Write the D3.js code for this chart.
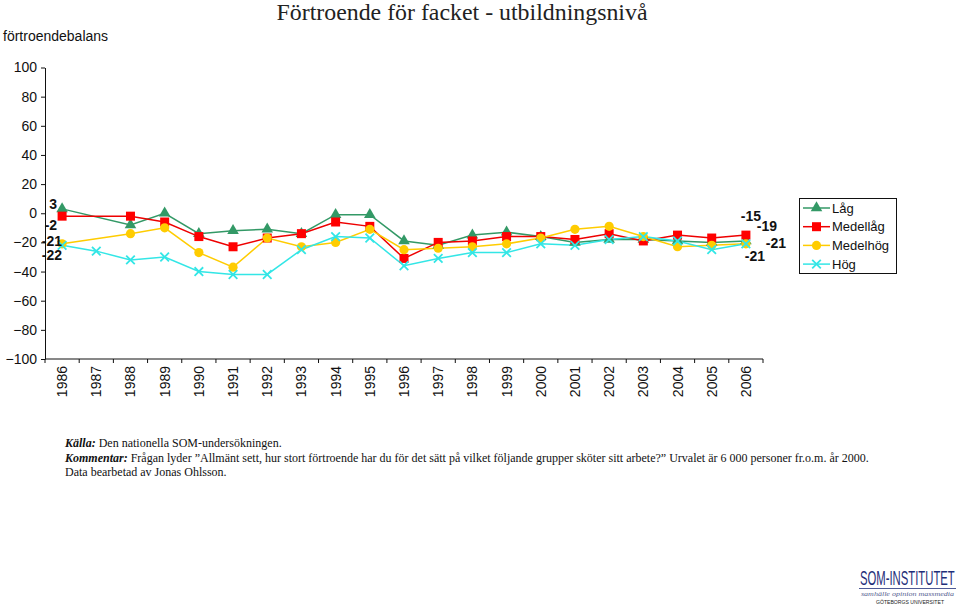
<!DOCTYPE html>
<html>
<head>
<meta charset="utf-8">
<script src="https://cdn.jsdelivr.net/npm/d3@7"></script>
<style>
  html, body { margin: 0; padding: 0; background: #fff; }
  svg { display: block; }
  text { font-family: "Liberation Sans", Arial, sans-serif; }
</style>
</head>
<body>
<svg id="chart" width="959" height="608"></svg>
<script>
// ---- data ----
const years = ["1986","1987","1988","1989","1990","1991","1992","1993","1994","1995","1996",
               "1997","1998","1999","2000","2001","2002","2003","2004","2005","2006"];
const seriesNames = ["Låg", "Medellåg", "Medelhög", "Hög"];
const lag      = [3, null, -8, 0, -14, -12, -11, -14, -1, -1, -19, -22, -15, -13, -16, -20, -18, -18, -19, -20, -19];
const medellag = [-2, null, -2, -6, -16, -23, -17, -14, -6, -9, -31, -20, -19, -16, -16, -18, -14, -19, -15, -17, -15];
const medelhog = [-21, null, -14, -10, -27, -37, -17, -23, -20, -11, -25, -24, -23, -21, -17, -11, -9, -16, -23, -22, -21];
const hog      = [-22, -26, -32, -30, -40, -42, -42, -25, -16, -17, -36, -31, -27, -27, -21, -22, -18, -16, -19, -25, -21];
const yTicks = [-100, -80, -60, -40, -20, 0, 20, 40, 60, 80, 100];

const titleText = "Förtroende för facket - utbildningsnivå";
const yAxisTitle = "förtroendebalans";

// ---- setup ----
const svg = d3.select("#chart");
const x = d3.scaleBand().domain(years).range([45, 763]);
const y = d3.scaleLinear().domain([-100, 100]).range([359, 67.5]);
const cx = d => x(d) + x.bandwidth() / 2;

const styles = {
  "Låg":      { color: "#339966", marker: "triangle" },
  "Medellåg": { color: "#ee0000", marker: "square" },
  "Medelhög": { color: "#ffcc00", marker: "circle" },
  "Hög":      { color: "#33e6e6", marker: "x" }
};
const allValues = [lag, medellag, medelhog, hog];
const series = seriesNames.map((name, i) => ({
  name,
  points: years.map((yr, j) => ({ yr, v: allValues[i][j] })).filter(p => p.v !== null)
}));

// title
svg.append("text").attr("x", 462).attr("y", 20).attr("text-anchor", "middle")
  .style("font-family", "'Liberation Serif', 'DejaVu Serif', serif")
  .style("font-size", "23px").attr("fill", "#222")
  .attr("textLength", 371).attr("lengthAdjust", "spacingAndGlyphs")
  .text(titleText);

svg.append("text").attr("x", 3).attr("y", 41).style("font-size", "14px").attr("fill", "#111")
  .text(yAxisTitle);

// y axis
const yAxis = svg.append("g").attr("transform", "translate(45,0)")
  .call(d3.axisLeft(y).tickValues(yTicks).tickSize(4).tickSizeOuter(0).tickPadding(4));
yAxis.selectAll("text").style("font-size", "14px").style("font-family", "'Liberation Sans', Arial, sans-serif").attr("fill", "#111");
yAxis.selectAll("line,path").attr("stroke", "#111");

// x axis (ticks between categories)
const xg = svg.append("g");
xg.append("line").attr("x1", 45).attr("x2", 763).attr("y1", y(-100)).attr("y2", y(-100)).attr("stroke", "#111");
const bounds = years.map(d => x(d)).concat([x(years[years.length - 1]) + x.bandwidth()]);
xg.selectAll("line.tk").data(bounds).join("line").attr("class", "tk")
  .attr("x1", d => d).attr("x2", d => d).attr("y1", y(-100)).attr("y2", y(-100) + 4).attr("stroke", "#111");
xg.selectAll("text").data(years).join("text")
  .attr("transform", d => `translate(${cx(d) + 5},366) rotate(-90)`)
  .attr("text-anchor", "end").style("font-size", "14px").attr("fill", "#111")
  .text(d => d);

// lines
const line = d3.line().x(p => cx(p.yr)).y(p => y(p.v));
const g = svg.append("g");
series.forEach(s => {
  g.append("path").datum(s.points).attr("d", line).attr("fill", "none")
    .attr("stroke", styles[s.name].color).attr("stroke-width", 1.5);
});

function drawMarker(sel, type, color, px, py) {
  if (type === "triangle") {
    sel.append("path").attr("d", d3.symbol(d3.symbolTriangle, 58)())
      .attr("transform", `translate(${px},${py})`).attr("fill", color);
  } else if (type === "square") {
    sel.append("rect").attr("x", px - 4.5).attr("y", py - 4.5).attr("width", 9).attr("height", 9).attr("fill", color === "#ee0000" ? "#ff0000" : color);
  } else if (type === "circle") {
    sel.append("circle").attr("cx", px).attr("cy", py).attr("r", 4.6).attr("fill", color);
  } else {
    const r = 4.3;
    sel.append("path").attr("d", `M${px - r},${py - r}L${px + r},${py + r}M${px - r},${py + r}L${px + r},${py - r}`)
      .attr("stroke", color).attr("stroke-width", 1.8);
  }
}
series.forEach(s => {
  const st = styles[s.name];
  const mg = g.append("g");
  s.points.forEach(p => drawMarker(mg, st.marker, st.color, cx(p.yr), y(p.v)));
});

// data labels (first & last values)
const firstLabelOffsets = { "Låg": [-5, 0], "Medellåg": [-5, 14], "Medelhög": [0, 2], "Hög": [0, 15] };
const lastLabelOffsets  = { "Medellåg": [5, -14], "Låg": [21, -10], "Medelhög": [30, 4], "Hög": [9, 17] };
series.forEach((s, i) => {
  const first = s.points[0], last = s.points[s.points.length - 1];
  const fo = firstLabelOffsets[s.name];
  svg.append("text").attr("x", cx(first.yr) + fo[0]).attr("y", y(first.v) + fo[1])
    .attr("text-anchor", "end").style("font-size", "14px").style("font-weight", "bold").attr("fill", "#111")
    .text(first.v);
  const lo = lastLabelOffsets[s.name];
  svg.append("text").attr("x", cx(last.yr) + lo[0]).attr("y", y(last.v) + lo[1])
    .attr("text-anchor", "middle").style("font-size", "14px").style("font-weight", "bold").attr("fill", "#111")
    .text(last.v);
});

// legend
const lg = svg.append("g");
lg.append("rect").attr("x", 799.5).attr("y", 198.5).attr("width", 97).attr("height", 75)
  .attr("fill", "#fff").attr("stroke", "#111").attr("stroke-width", 1);
seriesNames.forEach((n, i) => {
  const ly = 208 + i * 18.7;
  const st = styles[n];
  lg.append("line").attr("x1", 803).attr("x2", 830).attr("y1", ly).attr("y2", ly)
    .attr("stroke", st.color).attr("stroke-width", 1.5);
  drawMarker(lg, st.marker, st.color, 816.5, ly);
  lg.append("text").attr("x", 832).attr("y", ly + 4.5).style("font-size", "13px").attr("fill", "#111").text(n);
});

// footer
const ft = svg.append("g").style("font-family", "'Liberation Serif', 'Times New Roman', serif").style("font-size", "12px").attr("fill", "#111");
const l1 = ft.append("text").attr("x", 65).attr("y", 447);
l1.append("tspan").style("font-weight", "bold").style("font-style", "italic").style("font-family", "'Liberation Serif', serif").text("Källa:");
l1.append("tspan").style("font-family", "'Liberation Serif', serif").text(" Den nationella SOM-undersökningen.");
const l2 = ft.append("text").attr("x", 65).attr("y", 462);
l2.append("tspan").style("font-weight", "bold").style("font-style", "italic").style("font-family", "'Liberation Serif', serif").text("Kommentar:");
l2.append("tspan").style("font-family", "'Liberation Serif', serif").text(" Frågan lyder ”Allmänt sett, hur stort förtroende har du för det sätt på vilket följande grupper sköter sitt arbete?” Urvalet är 6 000 personer fr.o.m. år 2000.");
ft.append("text").attr("x", 65).attr("y", 476).style("font-family", "'Liberation Serif', serif").text("Data bearbetad av Jonas Ohlsson.");

// logo
const logo = svg.append("g");
logo.append("text").attr("transform", "translate(860,585) scale(1,1.75)")
  .style("font-family", "'Liberation Sans', Arial, sans-serif").style("font-size", "11.3px")
  .attr("fill", "#1f2f7a").text("SOM-INSTITUTET");
logo.append("line").attr("x1", 859).attr("x2", 956).attr("y1", 588.5).attr("y2", 588.5).attr("stroke", "#1f2f7a").attr("stroke-width", 0.8);
logo.append("text").attr("x", 861).attr("y", 595.5).attr("textLength", 93).attr("lengthAdjust", "spacingAndGlyphs")
  .style("font-family", "'Liberation Serif', serif").style("font-size", "7px").style("font-style", "italic")
  .attr("fill", "#55608f").text("samhälle opinion massmedia");
logo.append("text").attr("x", 876).attr("y", 604).attr("textLength", 68).attr("lengthAdjust", "spacingAndGlyphs")
  .style("font-size", "6px").attr("fill", "#222").text("GÖTEBORGS UNIVERSITET");
</script>
</body>
</html>
